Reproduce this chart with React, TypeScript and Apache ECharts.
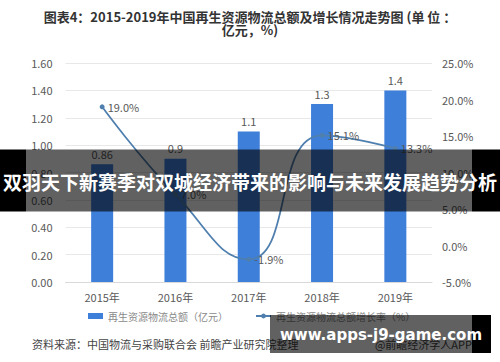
import React, { useEffect, useRef } from "react";
import * as echarts from "echarts";

const years = ["2015年", "2016年", "2017年", "2018年", "2019年"];
const totals = [0.86, 0.9, 1.1, 1.3, 1.4];
const growth = [19.0, 7.0, -1.9, 15.1, 13.3];
const leftAxis = { min: 0, max: 1.6, interval: 0.2 };
const rightAxis = { min: -5, max: 25, interval: 5 };
const seriesNames = ["再生资源物流总额（亿元）", "再生资源物流总额增长率（%）"];
const titleLines = ["图表4：2015-2019年中国再生资源物流总额及增长情况走势图 (单 位 ：", "亿元，%)"];
const sourceText = "资料来源：中国物流与采购联合会 前瞻产业研究院整理";
const creditText = "@前瞻经济学人APP";
const bannerText = "双羽天下新赛季对双城经济带来的影响与未来发展趋势分析";
const siteText = "www.apps-j9-game.com";

const FONT = "'Noto Sans CJK SC', 'Noto Sans', sans-serif";

export default function App() {
  const ref = useRef<HTMLDivElement>(null);
  useEffect(() => {
    if (!ref.current) return;
    const chart = echarts.init(ref.current, null, { renderer: "svg" });
    chart.setOption({
      animation: false,
      backgroundColor: "#ffffff",
      textStyle: { fontFamily: FONT },
      grid: { left: 65.5, right: 68, top: 63, bottom: 80 },
      legend: {
        left: 88,
        top: 311,
        padding: 0,
        itemWidth: 15,
        itemHeight: 6,
        itemGap: 27,
        textStyle: { fontSize: 10, color: "#8a8a8a", fontFamily: FONT },
        data: [
          { name: seriesNames[0], icon: "rect" },
          { name: seriesNames[1] },
        ],
      },
      xAxis: {
        type: "category",
        data: years,
        axisLine: { lineStyle: { color: "#d9d9d9" } },
        axisTick: { show: false },
        axisLabel: { color: "#595959", fontSize: 11, margin: 9 },
      },
      yAxis: [
        {
          type: "value",
          min: leftAxis.min,
          max: leftAxis.max,
          interval: leftAxis.interval,
          axisLine: { show: false },
          axisTick: { show: false },
          axisLabel: {
            color: "#595959",
            fontSize: 11,
            margin: 13,
            formatter: (v: number) => v.toFixed(2),
          },
          splitLine: { lineStyle: { color: "#e8e8e8" } },
        },
        {
          type: "value",
          min: rightAxis.min,
          max: rightAxis.max,
          interval: rightAxis.interval,
          axisLine: { show: false },
          axisTick: { show: false },
          axisLabel: {
            color: "#595959",
            fontSize: 11,
            margin: 10,
            formatter: (v: number) => v.toFixed(1) + "%",
          },
          splitLine: { show: false },
        },
      ],
      series: [
        {
          name: seriesNames[0],
          type: "bar",
          data: totals,
          barWidth: 22,
          itemStyle: { color: "#3d7fd9" },
          label: {
            show: true,
            position: "top",
            distance: 5,
            color: "#595959",
            fontSize: 11,
          },
        },
        {
          name: seriesNames[1],
          type: "line",
          yAxisIndex: 1,
          data: growth,
          smooth: 0.5,
          symbol: "circle",
          symbolSize: 5,
          itemStyle: { color: "#4f7fae" },
          lineStyle: { color: "#4f7fae", width: 1.75 },
          label: {
            show: true,
            position: "right",
            distance: 3,
            color: "#595959",
            fontSize: 11,
            formatter: (p: any) => Number(p.value).toFixed(1) + "%",
          },
        },
      ],
      graphic: [
        {
          type: "text",
          x: 250,
          y: 16,
          z: 100,
          style: {
            text: titleLines[0],
            fill: "#333333",
            font: "bold 13px " + FONT,
            textAlign: "center",
            textVerticalAlign: "middle",
          },
        },
        {
          type: "text",
          x: 250,
          y: 29,
          z: 100,
          style: {
            text: titleLines[1],
            fill: "#333333",
            font: "bold 13px " + FONT,
            textAlign: "center",
            textVerticalAlign: "middle",
          },
        },
        {
          type: "text",
          x: 32,
          y: 344,
          z: 100,
          style: {
            text: sourceText,
            fill: "#444444",
            font: "11px " + FONT,
            textAlign: "left",
            textVerticalAlign: "middle",
          },
        },
        {
          type: "text",
          x: 472,
          y: 344,
          z: 100,
          style: {
            text: creditText,
            fill: "#444444",
            font: "11px " + FONT,
            textAlign: "right",
            textVerticalAlign: "middle",
          },
        },
        // banner
        { type: "rect", z: 200, shape: { x: 0, y: 149.5, width: 26, height: 62 }, style: { fill: "#000000" } },
        { type: "rect", z: 200, shape: { x: 26, y: 149.5, width: 446, height: 62 }, style: { fill: "rgba(0,0,0,0.62)" } },
        { type: "rect", z: 200, shape: { x: 472, y: 149.5, width: 28, height: 62 }, style: { fill: "#000000" } },
        {
          type: "text",
          x: 250,
          y: 181,
          z: 210,
          style: {
            text: bannerText,
            fill: "#ffffff",
            font: "bold 19px " + FONT,
            textAlign: "center",
            textVerticalAlign: "middle",
          },
        },
        // site box
        { type: "rect", z: 200, shape: { x: 270, y: 315, width: 202, height: 38 }, style: { fill: "rgba(0,0,0,0.62)" } },
        { type: "rect", z: 200, shape: { x: 472, y: 315, width: 19, height: 38 }, style: { fill: "#000000" } },
        {
          type: "text",
          x: 381,
          y: 335,
          z: 210,
          style: {
            text: siteText,
            fill: "#ffffff",
            font: "bold 15px 'DejaVu Sans', sans-serif",
            textAlign: "center",
            textVerticalAlign: "middle",
          },
        },
      ],
    });
    return () => chart.dispose();
  }, []);
  return (
    <div
      ref={ref}
      style={{ position: "fixed", left: 0, top: 0, width: 500, height: 362 }}
    />
  );
}
